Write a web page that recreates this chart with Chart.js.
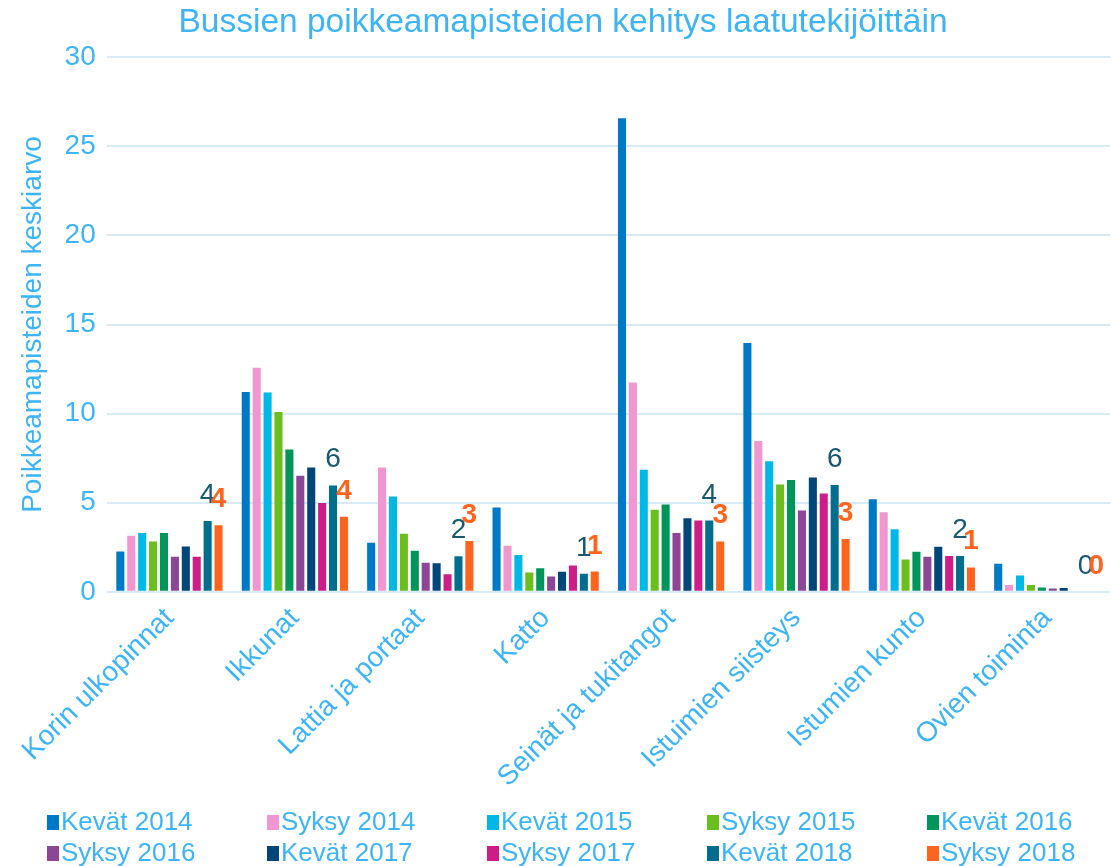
<!DOCTYPE html>
<html>
<head>
<meta charset="utf-8">
<script src="https://cdn.jsdelivr.net/npm/chart.js@4.4.1/dist/chart.umd.min.js"></script>
<style>
  html, body { margin: 0; padding: 0; background: #fff; }
  #wrap { width: 1113px; height: 866px; position: relative; }
</style>
</head>
<body>
<div id="wrap"><canvas id="chart"></canvas></div>
<script>
const categories = ["Korin ulkopinnat", "Ikkunat", "Lattia ja portaat", "Katto",
  "Seinät ja tukitangot", "Istuimien siisteys", "Istumien kunto", "Ovien toiminta"];

const seriesNames = ["Kevät 2014", "Syksy 2014", "Kevät 2015", "Syksy 2015", "Kevät 2016",
  "Syksy 2016", "Kevät 2017", "Syksy 2017", "Kevät 2018", "Syksy 2018"];

const seriesColors = ["#0078C8", "#F096D0", "#00B8E6", "#6ABE1E", "#00965A",
  "#8C4696", "#004678", "#CD1E87", "#006E8C", "#FF641E"];

const kevat2014 = [2.27, 11.22, 2.76, 4.73, 26.58, 13.96, 5.20, 1.58];
const syksy2014 = [3.15, 12.57, 6.98, 2.59, 11.74, 8.46, 4.46, 0.38];
const kevat2015 = [3.30, 11.18, 5.35, 2.06, 6.85, 7.33, 3.51, 0.92];
const syksy2015 = [2.83, 10.09, 3.26, 1.09, 4.61, 6.02, 1.82, 0.39];
const kevat2016 = [3.30, 7.99, 2.31, 1.33, 4.90, 6.27, 2.25, 0.24];
const syksy2016 = [1.97, 6.51, 1.63, 0.86, 3.30, 4.56, 1.97, 0.19];
const kevat2017 = [2.55, 6.98, 1.61, 1.13, 4.13, 6.42, 2.53, 0.22];
const syksy2017 = [1.97, 4.99, 0.99, 1.48, 4.00, 5.52, 2.01, 0];
const kevat2018 = [3.98, 5.97, 1.99, 1.01, 4.00, 6.00, 2.01, 0];
const syksy2018 = [3.73, 4.22, 2.85, 1.14, 2.83, 2.96, 1.37, 0];

const seriesValues = [kevat2014, syksy2014, kevat2015, syksy2015, kevat2016,
  syksy2016, kevat2017, syksy2017, kevat2018, syksy2018];

const yTicks = [0, 5, 10, 15, 20, 25, 30];

const textBlue = "#3DB4F6";
const gridBlue = "#D6EAF8";
const fontFamily = "'Liberation Sans', Arial, sans-serif";

// value labels drawn only for the two latest series, like the original
const labelledSeries = [
  { index: 8, color: "#17596E", weight: "normal" },
  { index: 9, color: "#FF641E", weight: "bold" }
];

const valueLabels = {
  id: "valueLabels",
  afterDatasetsDraw(chart) {
    const ctx = chart.ctx;
    ctx.save();
    ctx.textAlign = "center";
    ctx.textBaseline = "alphabetic";
    labelledSeries.forEach(s => {
      const meta = chart.getDatasetMeta(s.index);
      ctx.fillStyle = s.color;
      ctx.font = s.weight + " 28px " + fontFamily;
      meta.data.forEach((bar, j) => {
        const v = chart.data.datasets[s.index].data[j];
        ctx.fillText(String(Math.round(v)), bar.x, bar.y - 18);
      });
    });
    ctx.restore();
  }
};

// legend laid out as a fixed 5-column grid under the axis labels
const gridLegend = {
  id: "gridLegend",
  afterDraw(chart) {
    const ctx = chart.ctx;
    const cols = 5, pitch = 220, rowGap = 31;
    const left = 47;
    const top = chart.height - 44;
    ctx.save();
    ctx.font = "26px " + fontFamily;
    ctx.textBaseline = "middle";
    ctx.textAlign = "left";
    chart.data.datasets.forEach((ds, i) => {
      const x = left + (i % cols) * pitch;
      const y = top + Math.floor(i / cols) * rowGap;
      ctx.fillStyle = ds.backgroundColor;
      ctx.fillRect(x, y - 7, 12, 15);
      ctx.fillStyle = textBlue;
      ctx.fillText(ds.label, x + 14, y + 1);
    });
    ctx.restore();
  }
};

new Chart(document.getElementById("chart"), {
  type: "bar",
  data: {
    labels: categories,
    datasets: seriesNames.map((name, i) => ({
      label: name,
      data: seriesValues[i],
      backgroundColor: seriesColors[i],
      barPercentage: 0.74,
      categoryPercentage: 0.87
    }))
  },
  options: {
    responsive: true,
    maintainAspectRatio: false,
    animation: false,
    layout: { padding: { left: 16, right: 3, top: 0, bottom: 70 } },
    plugins: {
      legend: { display: false },
      tooltip: { enabled: false },
      title: {
        display: true,
        text: "Bussien poikkeamapisteiden kehitys laatutekijöittäin",
        color: textBlue,
        font: { family: fontFamily, size: 33.5, weight: "normal" },
        padding: { top: 3, bottom: 14 }
      }
    },
    scales: {
      x: {
        grid: { display: false },
        border: { display: false },
        ticks: {
          color: textBlue,
          font: { family: fontFamily, size: 28 },
          minRotation: 45,
          maxRotation: 45,
          autoSkip: false,
          padding: 2
        }
      },
      y: {
        min: 0,
        max: 30,
        afterBuildTicks: axis => { axis.ticks = yTicks.map(v => ({ value: v })); },
        grid: { color: gridBlue, lineWidth: 2, drawTicks: false },
        border: { display: false },
        ticks: {
          color: textBlue,
          font: { family: fontFamily, size: 28 },
          padding: 11
        },
        title: {
          display: true,
          text: "Poikkeamapisteiden keskiarvo",
          color: textBlue,
          font: { family: fontFamily, size: 28 },
          padding: { top: 0, bottom: 4 }
        }
      }
    }
  },
  plugins: [valueLabels, gridLegend]
});
</script>
</body>
</html>
